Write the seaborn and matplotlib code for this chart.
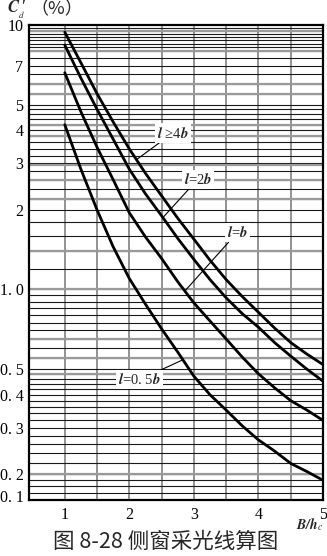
import numpy as np
import pandas as pd
import matplotlib
matplotlib.use("Agg")
import matplotlib.pyplot as plt
import seaborn as sns

# ---- data ----
ratio_b_hc = [1.0, 1.25, 1.5, 1.75, 2.0, 2.25, 2.5, 2.75, 3.0, 3.25, 3.5, 3.75, 4.0, 4.25, 4.5, 4.75, 5.0]
cd_l4b = [9.4, 7.2, 5.5, 4.3, 3.4, 2.75, 2.26, 1.86, 1.55, 1.29, 1.09, 0.94, 0.82, 0.715, 0.63, 0.57, 0.52]
cd_l2b = [8.4, 6.3, 4.8, 3.7, 2.85, 2.3, 1.90, 1.56, 1.30, 1.09, 0.93, 0.81, 0.72, 0.63, 0.56, 0.50, 0.45]
cd_lb = [6.6, 4.7, 3.45, 2.6, 1.95, 1.58, 1.31, 1.07, 0.89, 0.76, 0.65, 0.555, 0.48, 0.425, 0.38, 0.35, 0.32]
cd_l05b = [4.2, 2.85, 2.0, 1.45, 1.10, 0.88, 0.71, 0.58, 0.47, 0.40, 0.35, 0.305, 0.27, 0.245, 0.22, 0.205, 0.19]
curve_names = ["l>=4b", "l=2b", "l=b", "l=0.5b"]

ytick_vals = [10, 7, 5, 4, 3, 2, 1, 0.5, 0.4, 0.3, 0.2, 0.165]
ytick_labels = ["10", "7", "5", "4", "3", "2", "1. 0", "0. 5", "0. 4", "0. 3", "0. 2", "0. 1"]
xtick_vals = [1, 2, 3, 4, 5]

# label text, label position (x, y), pointer target x on curve, curve index
labels = [
    (r"$\mathbfit{l}$ ≥4$\mathbfit{b}$", 2.67, 3.9, 2.11, 0),
    (r"$\mathbfit{l}$=2$\mathbfit{b}$", 3.06, 2.61, 2.52, 1),
    (r"$\mathbfit{l}$=$\mathbfit{b}$", 3.67, 1.64, 2.86, 2),
    (r"$\mathbfit{l}$=0. 5$\mathbfit{b}$", 2.16, 0.456, 2.83, 3),
]

series = [cd_l4b, cd_l2b, cd_lb, cd_l05b]
df = pd.concat(
    [pd.DataFrame({"B/hc": ratio_b_hc, "Cd": s, "curve": n}) for s, n in zip(series, curve_names)],
    ignore_index=True,
)

sns.set_theme(style="white")
plt.rcParams["font.family"] = ["Liberation Serif", "DejaVu Serif", "DejaVu Sans"]
plt.rcParams["mathtext.fontset"] = "stix"

fig = plt.figure(figsize=(3.27, 5.56), dpi=100)
ax = fig.add_axes([29 / 327, 56 / 556, 294 / 327, 475 / 556])

sns.lineplot(data=df, x="B/hc", y="Cd", hue="curve", palette=["black"] * 4,
             legend=False, ax=ax, linewidth=2.0, zorder=5)
ax.set_yscale("log")
ax.set_xlim(0.446, 5.0)
ax.set_ylim(0.16, 10)

# grid
for xv in np.arange(1.0, 5.0, 0.5):
    ax.axvline(xv, color="#8a8a8a", lw=1.3, zorder=1)
hvals = np.concatenate([
    np.arange(8.0, 10.0, 0.25), np.arange(5.0, 8.0, 0.5), np.arange(1.0, 5.0, 0.2),
    np.arange(0.5, 1.0, 0.05), np.arange(0.2, 0.5, 0.02), np.arange(0.16, 0.2, 0.01)])
gray_vals = [9.5, 8.0, 6.0, 5.5, 4.2, 3.8, 2.95, 2.6, 2.2, 1.4, 1.0, 0.65, 0.55, 0.48, 0.2]
for hv in hvals:
    ax.axhline(hv, color="#1a1a1a", lw=0.8, zorder=1)
for hv in gray_vals:
    ax.axhline(hv, color="#9a9a9a", lw=1.6, zorder=1.5)

ax.set_yticks(ytick_vals)
ax.set_yticklabels(ytick_labels)
ax.set_xticks(xtick_vals)
ax.set_xticklabels([str(v) for v in xtick_vals])
ax.minorticks_off()
ax.tick_params(length=0, labelsize=11.5, colors="black")
ax.tick_params(axis="y", pad=4)
ax.tick_params(axis="x", pad=5)
ax.set_xlabel("")
ax.set_ylabel("")
for sp in ax.spines.values():
    sp.set_visible(True)
    sp.set_color("black")
    sp.set_linewidth(1.6)
    sp.set_zorder(6)

# curve labels with pointers
for text, tx, ty, px, idx in labels:
    py = 10 ** np.interp(px, ratio_b_hc, np.log10(series[idx]))
    ax.annotate(text, xy=(px, py), xytext=(tx, ty), ha="center", va="center",
                fontsize=10.5, zorder=7,
                bbox=dict(boxstyle="square,pad=0.15", fc="white", ec="none"),
                arrowprops=dict(arrowstyle="-", lw=0.8, color="black",
                                shrinkA=0, shrinkB=0))

# y-axis title: C'_d (%)
fig.text(7 / 327, 1 - 8 / 556, r"$\mathbfit{C}$", fontsize=12, ha="left", va="center")
fig.text(21 / 327, 1 - 6 / 556, "′", fontsize=10, ha="left", va="center",
         fontweight="bold")
fig.text(18 / 327, 1 - 14.5 / 556, r"$\mathit{d}$", fontsize=6.5, ha="left", va="center")
fig.text(30 / 327, 1 - 9 / 556, "（%）", fontsize=13, ha="left", va="center",
         family=["Noto Sans CJK SC", "DejaVu Sans"])
# x-axis title
fig.text(310 / 327, 1 - 525 / 556, r"$\mathbfit{B/h}_{c}$", fontsize=10,
         ha="center", va="center")
fig.text(0.505, 1 - 542 / 556, "图 8-28 侧窗采光线算图", fontsize=15.5,
         ha="center", va="center", family=["Noto Sans CJK SC", "DejaVu Sans"])

fig.savefig("out.png", dpi=100)
